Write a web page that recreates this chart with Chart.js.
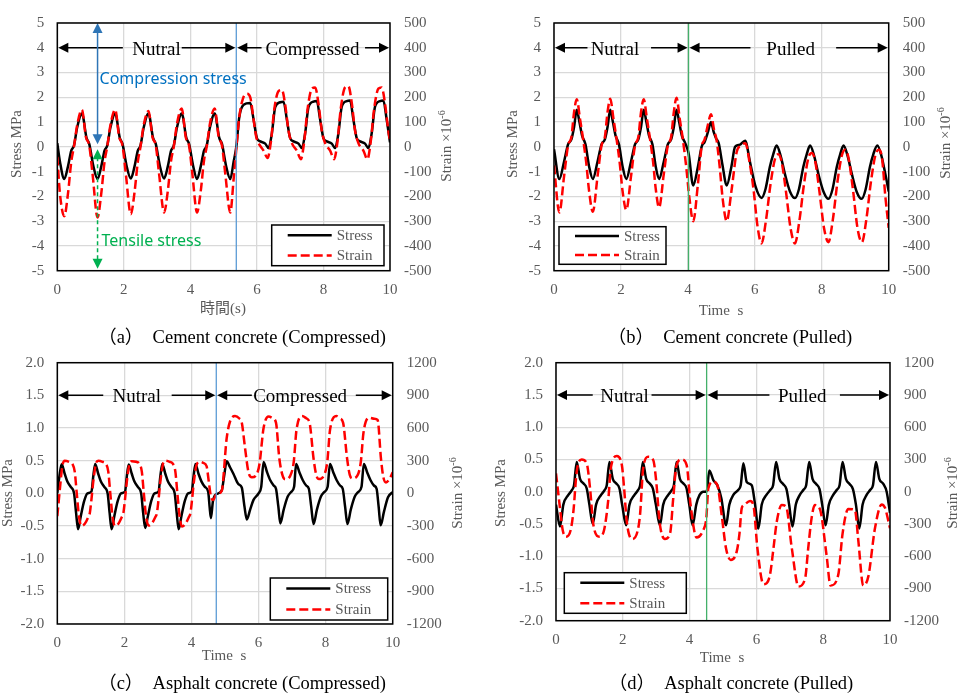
<!DOCTYPE html>
<html>
<head>
<meta charset="utf-8">
<script src="https://cdn.jsdelivr.net/npm/chart.js@4.4.1/dist/chart.umd.min.js"></script>
<style>
html, body { margin: 0; padding: 0; background: #fff; }
body { width: 962px; height: 693px; position: relative; overflow: hidden; }
canvas { position: absolute; left: 0; top: 0; }
.cap { position: absolute; width: 420px; text-align: center; line-height: 22px; white-space: pre;
  font: 18.5px "Liberation Serif", "Noto Sans CJK JP", serif; color: #000; }
</style>
</head>
<body>
<canvas id="pa" width="962" height="693"></canvas>
<canvas id="pb" width="962" height="693"></canvas>
<canvas id="pc" width="962" height="693"></canvas>
<canvas id="pd" width="962" height="693"></canvas>
<div class="cap" style="left:32px;top:322px">（a）　Cement concrete (Compressed)</div>
<div class="cap" style="left:520px;top:322px">（b）　Cement concrete (Pulled)</div>
<div class="cap" style="left:32px;top:668px">（c）　Asphalt concrete (Compressed)</div>
<div class="cap" style="left:521px;top:668px">（d）　Asphalt concrete (Pulled)</div>
<script>
// [time s, stress MPa] and [time s, strain x10^-6]
const aStress = [[0,0.15],[0.08,-0.6],[0.21,-1.3],[0.32,-0.8],[0.42,-0.15],[0.5,0.05],[0.6,0.8],[0.74,1.35],[0.88,0.35],[0.96,0.12],[1.08,-0.75],
  [1.21,-1.3],[1.32,-0.8],[1.42,-0.15],[1.5,0.05],[1.6,0.8],[1.74,1.35],[1.88,0.35],[1.96,0.12],[2.08,-0.75],
  [2.21,-1.28],[2.32,-0.8],[2.42,-0.15],[2.5,0.05],[2.6,0.8],[2.74,1.35],[2.88,0.35],[2.96,0.12],[3.08,-0.75],
  [3.21,-1.28],[3.32,-0.8],[3.42,-0.15],[3.5,0.05],[3.6,0.8],[3.74,1.35],[3.88,0.35],[3.96,0.12],[4.08,-0.75],
  [4.2,-1.3],[4.31,-0.8],[4.41,-0.15],[4.49,0.05],[4.59,0.8],[4.73,1.35],[4.87,0.35],[4.95,0.12],[5.07,-0.75],
  [5.2,-1.3],[5.3,-0.6],[5.38,0],[5.47,1.2],[5.6,1.7],[5.8,1.77],[5.9,1.1],[6.0,0.35],[6.1,0.22],[6.25,0.13],
  [6.35,-0.05],[6.45,0.55],[6.55,1.6],[6.7,1.8],[6.8,1.82],[6.9,1.1],[7.0,0.35],[7.1,0.22],[7.25,0.13],
  [7.35,-0.05],[7.45,0.55],[7.55,1.6],[7.7,1.83],[7.8,1.85],[7.9,1.1],[8.0,0.35],[8.1,0.22],[8.25,0.13],
  [8.35,-0.05],[8.45,0.55],[8.55,1.62],[8.7,1.85],[8.8,1.87],[8.9,1.1],[9.0,0.35],[9.1,0.22],[9.25,0.13],
  [9.35,-0.05],[9.45,0.55],[9.55,1.62],[9.7,1.85],[9.8,1.87],[9.9,1.1],[10,0.18]];
const aStrain = [[0,-40],[0.08,-190],[0.21,-280],[0.32,-190],[0.42,-60],[0.5,0],[0.6,90],[0.74,150],[0.86,40],[0.96,5],[1.06,-110],
  [1.21,-285],[1.32,-190],[1.42,-60],[1.5,0],[1.6,90],[1.74,150],[1.86,40],[1.96,5],[2.06,-110],
  [2.21,-272],[2.32,-185],[2.42,-60],[2.5,0],[2.6,90],[2.74,145],[2.86,40],[2.96,5],[3.06,-110],
  [3.21,-265],[3.32,-180],[3.42,-55],[3.5,0],[3.6,95],[3.74,155],[3.86,40],[3.96,5],[4.06,-110],
  [4.2,-265],[4.31,-180],[4.41,-55],[4.49,0],[4.59,95],[4.73,155],[4.85,40],[4.95,5],[5.05,-110],
  [5.2,-265],[5.3,-130],[5.38,-10],[5.47,120],[5.58,195],[5.7,214],[5.8,200],[5.9,110],[5.98,40],[6.05,15],[6.2,-15],
  [6.32,-45],[6.42,20],[6.52,150],[6.65,225],[6.75,230],[6.85,170],[6.95,65],[7.05,15],[7.2,-15],
  [7.32,-50],[7.42,20],[7.52,150],[7.65,235],[7.75,240],[7.85,175],[7.95,65],[8.05,15],[8.2,-15],
  [8.32,-50],[8.42,20],[8.52,155],[8.65,240],[8.75,245],[8.85,178],[8.95,65],[9.05,15],[9.2,-15],
  [9.32,-50],[9.42,20],[9.52,150],[9.65,235],[9.75,240],[9.85,175],[9.95,65],[10,24]];

const bStress = [[0,-0.1],[0.16,-1.3],[0.3,-0.6],[0.42,0.1],[0.52,0.3],[0.6,0.8],[0.68,1.5],[0.76,1.0],[0.84,0.45],[0.94,0.1],[1.05,-0.8],
  [1.16,-1.3],[1.3,-0.6],[1.42,0.1],[1.52,0.3],[1.6,0.8],[1.68,1.5],[1.76,1.0],[1.84,0.45],[1.94,0.1],[2.05,-0.8],
  [2.16,-1.3],[2.3,-0.6],[2.42,0.1],[2.52,0.3],[2.6,0.8],[2.68,1.5],[2.76,1.0],[2.84,0.45],[2.94,0.1],[3.04,-0.8],
  [3.14,-1.3],[3.28,-0.6],[3.4,0.1],[3.5,0.3],[3.58,0.8],[3.66,1.5],[3.74,1.0],[3.82,0.45],[3.92,0.15],[4.02,-0.25],
  [4.16,-1.56],[4.3,-0.8],[4.41,0],[4.5,0.2],[4.6,0.6],[4.69,1.0],[4.77,0.6],[4.84,0.35],[4.92,0.15],[5.03,-0.7],
  [5.16,-1.56],[5.3,-0.8],[5.41,0],[5.54,0.08],[5.71,0.25],[5.86,-0.64],[6.02,-1.6],
  [6.2,-2.06],[6.32,-1.7],[6.45,-0.8],[6.55,-0.3],[6.65,0.05],[6.77,-0.35],[6.9,-1.1],[7.05,-1.8],
  [7.2,-2.07],[7.32,-1.7],[7.45,-0.8],[7.55,-0.3],[7.65,0.05],[7.77,-0.35],[7.9,-1.1],[8.05,-1.8],
  [8.2,-2.1],[8.32,-1.72],[8.45,-0.8],[8.55,-0.3],[8.65,0.05],[8.77,-0.35],[8.9,-1.1],[9.04,-1.8],
  [9.19,-2.1],[9.31,-1.72],[9.44,-0.8],[9.54,-0.3],[9.66,0.05],[9.78,-0.35],[9.9,-1.1],[10,-1.8]];
const bStrain = [[0,-75],[0.16,-265],[0.3,-120],[0.42,5],[0.52,40],[0.6,140],[0.68,192],[0.78,110],[0.86,40],[0.96,-60],[1.05,-180],
  [1.16,-262],[1.3,-120],[1.42,5],[1.52,40],[1.6,140],[1.68,194],[1.78,110],[1.86,40],[1.96,-60],[2.05,-180],
  [2.16,-255],[2.3,-120],[2.42,5],[2.52,40],[2.6,140],[2.68,192],[2.78,110],[2.86,40],[2.96,-60],[3.04,-170],
  [3.14,-245],[3.28,-110],[3.4,5],[3.5,40],[3.58,140],[3.66,198],[3.76,110],[3.84,40],[3.95,-80],[4.04,-200],
  [4.16,-300],[4.3,-150],[4.41,0],[4.5,30],[4.6,90],[4.69,132],[4.78,70],[4.86,25],[4.95,-80],[5.04,-210],
  [5.16,-300],[5.3,-180],[5.46,-20],[5.58,5],[5.72,15],[5.84,-60],[5.96,-170],[6.08,-320],
  [6.2,-390],[6.33,-300],[6.47,-150],[6.6,-50],[6.7,-30],[6.8,-60],[6.93,-180],[7.07,-330],
  [7.2,-390],[7.33,-300],[7.47,-150],[7.6,-45],[7.7,-25],[7.8,-55],[7.93,-180],[8.07,-330],
  [8.2,-385],[8.33,-295],[8.47,-140],[8.6,-35],[8.7,-12],[8.8,-45],[8.93,-170],[9.07,-330],
  [9.2,-385],[9.33,-295],[9.47,-140],[9.6,-35],[9.7,-12],[9.8,-45],[9.9,-200],[10,-327]];

const cStress = [[0,0],[0.06,0.25],[0.13,0.45],[0.22,0.3],[0.3,0.18],[0.4,0.1],[0.5,0],[0.56,-0.3],[0.62,-0.55],[0.7,-0.35],[0.8,-0.12],[0.9,0],[1.02,0.03],[1.07,0.25],
  [1.13,0.45],[1.22,0.3],[1.3,0.18],[1.4,0.1],[1.5,0],[1.56,-0.3],[1.62,-0.55],[1.7,-0.35],[1.8,-0.12],[1.9,0],[2.02,0.03],[2.07,0.25],
  [2.13,0.44],[2.22,0.3],[2.3,0.18],[2.4,0.1],[2.5,0],[2.56,-0.3],[2.62,-0.53],[2.7,-0.35],[2.8,-0.12],[2.9,0],[3.02,0.03],[3.07,0.25],
  [3.13,0.45],[3.22,0.3],[3.3,0.18],[3.4,0.1],[3.5,0],[3.56,-0.3],[3.62,-0.55],[3.7,-0.35],[3.8,-0.12],[3.9,0],[4.01,0.03],[4.06,0.25],
  [4.12,0.45],[4.21,0.3],[4.3,0.18],[4.4,0.1],[4.5,0.02],[4.54,-0.2],[4.58,-0.38],[4.64,-0.12],[4.72,-0.02],[4.9,0.04],[4.97,0.25],
  [5.05,0.49],[5.15,0.4],[5.25,0.3],[5.4,0.14],[5.5,0.09],[5.58,-0.2],[5.65,-0.4],[5.75,-0.25],[5.85,-0.1],[6.0,0],[6.08,0.1],
  [6.15,0.48],[6.25,0.33],[6.35,0.2],[6.45,0.12],[6.52,0.07],[6.59,-0.2],[6.65,-0.46],[6.75,-0.25],[6.87,-0.05],[6.97,0.02],[7.06,0.1],
  [7.12,0.45],[7.22,0.32],[7.32,0.2],[7.42,0.12],[7.5,0.07],[7.57,-0.2],[7.64,-0.47],[7.74,-0.25],[7.86,-0.05],[7.96,0.02],[8.06,0.1],
  [8.13,0.45],[8.23,0.32],[8.33,0.2],[8.43,0.12],[8.51,0.07],[8.58,-0.2],[8.65,-0.47],[8.75,-0.25],[8.87,-0.05],[8.97,0.02],[9.07,0.1],
  [9.14,0.45],[9.24,0.32],[9.34,0.2],[9.44,0.12],[9.52,0.07],[9.58,-0.2],[9.64,-0.49],[9.74,-0.28],[9.86,-0.06],[10,0.02]];
const cStrain = [[0,-210],[0.08,50],[0.15,250],[0.22,300],[0.35,290],[0.45,270],[0.52,200],[0.58,0],[0.65,-220],[0.72,-300],[0.82,-280],[0.92,-220],[0.97,-180],[1.02,-50],
  [1.07,100],[1.15,270],[1.22,300],[1.35,290],[1.45,270],[1.52,200],[1.58,0],[1.65,-220],[1.72,-300],[1.82,-280],[1.92,-220],[1.97,-180],[2.02,-50],
  [2.07,100],[2.15,270],[2.22,295],[2.35,290],[2.45,270],[2.52,200],[2.58,0],[2.65,-220],[2.72,-295],[2.82,-275],[2.92,-220],[2.97,-180],[3.02,-50],
  [3.07,100],[3.15,270],[3.22,300],[3.35,290],[3.45,270],[3.52,200],[3.58,0],[3.65,-220],[3.72,-305],[3.82,-280],[3.92,-220],[3.97,-180],[4.02,-50],
  [4.07,100],[4.15,260],[4.25,290],[4.35,280],[4.45,250],[4.52,100],[4.58,-30],[4.65,-62],[4.74,-10],[4.9,22],
  [5.05,506],[5.15,660],[5.3,710],[5.42,690],[5.5,650],[5.6,410],[5.7,194],[5.8,147],[5.95,178],[6.03,272],
  [6.15,600],[6.3,705],[6.42,690],[6.52,650],[6.62,320],[6.72,160],[6.8,130],[6.95,165],[7.05,290],
  [7.13,580],[7.3,710],[7.42,690],[7.52,650],[7.64,320],[7.72,170],[7.8,131],[7.95,165],[8.05,290],
  [8.13,580],[8.32,710],[8.42,690],[8.52,650],[8.64,320],[8.72,170],[8.8,137],[8.95,165],[9.05,290],
  [9.13,560],[9.3,694],[9.45,685],[9.55,675],[9.65,320],[9.72,150],[9.8,100],[9.9,130],[10,194]];

const dStress = [[0,-0.2],[0.12,-0.54],[0.22,-0.2],[0.37,-0.05],[0.47,0.02],[0.54,0.1],[0.62,0.46],[0.72,0.2],[0.82,0.13],[0.92,0.05],[1.0,-0.2],
  [1.1,-0.5],[1.2,-0.2],[1.35,-0.05],[1.45,0.02],[1.52,0.1],[1.6,0.46],[1.7,0.2],[1.8,0.13],[1.9,0.05],[1.98,-0.2],
  [2.1,-0.52],[2.2,-0.2],[2.35,-0.05],[2.45,0.02],[2.52,0.1],[2.6,0.46],[2.7,0.2],[2.8,0.13],[2.9,0.05],[2.99,-0.2],
  [3.11,-0.52],[3.21,-0.2],[3.36,-0.05],[3.46,0.02],[3.53,0.1],[3.61,0.46],[3.71,0.2],[3.81,0.13],[3.91,0.05],[3.99,-0.2],
  [4.09,-0.52],[4.2,-0.2],[4.3,-0.05],[4.41,0],[4.51,0],[4.59,0.33],[4.71,0.18],[4.83,0.1],[4.95,-0.1],
  [5.09,-0.52],[5.19,-0.2],[5.31,-0.05],[5.46,0.03],[5.53,0.1],[5.61,0.44],[5.71,0.15],[5.86,0.1],[5.96,-0.2],
  [6.06,-0.57],[6.16,-0.2],[6.3,-0.05],[6.42,0.03],[6.5,0.1],[6.59,0.46],[6.69,0.2],[6.8,0.12],[6.9,0.04],[6.98,-0.2],
  [7.08,-0.54],[7.18,-0.2],[7.3,-0.05],[7.41,0.03],[7.49,0.1],[7.58,0.46],[7.68,0.2],[7.79,0.12],[7.89,0.04],[7.97,-0.2],
  [8.07,-0.52],[8.17,-0.2],[8.3,-0.05],[8.41,0.03],[8.49,0.1],[8.58,0.46],[8.68,0.2],[8.79,0.12],[8.89,0.04],[8.98,-0.2],
  [9.08,-0.57],[9.18,-0.2],[9.3,-0.05],[9.41,0.03],[9.49,0.1],[9.58,0.46],[9.68,0.2],[9.8,0.12],[9.9,0],[10,-0.33]];
const dStrain = [[0,170],[0.12,-155],[0.2,-356],[0.3,-420],[0.44,-356],[0.52,-186],[0.62,186],[0.77,300],[0.92,263],[1.02,30],[1.12,-310],
  [1.3,-418],[1.44,-356],[1.57,-60],[1.64,217],[1.82,331],[1.97,250],[2.04,30],[2.12,-280],
  [2.27,-440],[2.44,-370],[2.52,-200],[2.61,217],[2.76,325],[2.91,295],[3.0,100],[3.1,-280],
  [3.26,-440],[3.42,-380],[3.51,-60],[3.61,248],[3.76,300],[3.91,250],[4.03,-124],
  [4.21,-427],[4.41,-356],[4.5,-248],[4.56,30],[4.71,93],[4.83,62],[4.96,-217],[5.09,-526],
  [5.23,-635],[5.41,-557],[5.49,-400],[5.56,-155],[5.63,-124],[5.81,-87],[5.91,-124],[6.03,-526],
  [6.21,-860],[6.31,-850],[6.41,-767],[6.51,-530],[6.61,-279],[6.76,-124],[6.89,-140],[7.06,-526],
  [7.26,-882],[7.46,-805],[7.55,-530],[7.65,-250],[7.75,-124],[7.9,-160],[8.1,-590],
  [8.22,-873],[8.45,-774],[8.58,-390],[8.75,-161],[8.95,-170],[9.05,-450],
  [9.2,-873],[9.35,-790],[9.55,-340],[9.75,-118],[9.85,-150],[10,-340]];

const seriesNames = ["Stress", "Strain"];
const xTitles = ["時間(s)", "Time  s", "Time  s", "Time  s"];

const FONT = '"Liberation Serif", "Times New Roman", "Noto Sans CJK JP", serif';
const GRAY = "#595959";
Chart.defaults.font.family = FONT;
Chart.defaults.font.size = 15;
Chart.defaults.color = GRAY;

const panels = {
	pa: {
		plot: {l: 57.3, r: 390, t: 18, b: 270.7},
		y: [-5, 5, 1], y2: [-500, 500, 100], dec: 0,
		stress: aStress, strain: aStrain, xTitle: xTitles[0],
		divider: 5.38, divColor: "#5B9BD5", arrowY: 4,
		phases: [
			{from: 0, to: 5.38, text: "Nutral", at: 2.98, gap: [1.97, 3.74]},
			{from: 5.38, to: 10, text: "Compressed", at: 7.67, gap: [6.14, 9.25]}
		],
		markers: [
			{t: 1.21, from: 5, to: 0.1, color: "#2E75B6", dash: [], text: "Compression stress", textColor: "#0070C0", tx: 1.27, ty: 2.73},
			{t: 1.21, from: -0.1, to: -4.92, color: "#00B050", dash: [4, 3], text: "Tensile stress", textColor: "#00B050", tx: 1.33, ty: -3.8}
		],
		legend: {x: 271.7, y: 225, w: 112.3, h: 40.7},
		titles: {left: [17, 144], right: [447, 146], x: [223, 309]}
	},
	pb: {
		plot: {l: 554, r: 888.7, t: 16.7, b: 270.7},
		y: [-5, 5, 1], y2: [-500, 500, 100], dec: 0,
		stress: bStress, strain: bStrain, xTitle: xTitles[1],
		divider: 4.02, divColor: "#44B06A", arrowY: 4,
		phases: [
			{from: 0, to: 4.02, text: "Nutral", at: 1.82, gap: [1.0, 2.9]},
			{from: 4.02, to: 10, text: "Pulled", at: 7.07, gap: [5.87, 8.43]}
		],
		markers: [],
		legend: {x: 559, y: 226.7, w: 107, h: 37.6},
		titles: {left: [513, 144], right: [946, 143], x: [721, 311]}
	},
	pc: {
		plot: {l: 57.3, r: 392.7, t: 362.7, b: 624},
		y: [-2, 2, 0.5], y2: [-1200, 1200, 300], dec: 1,
		stress: cStress, strain: cStrain, xTitle: xTitles[2],
		divider: 4.74, divColor: "#5B9BD5", arrowY: 1.5,
		phases: [
			{from: 0, to: 4.74, text: "Nutral", at: 2.37, gap: [1.37, 3.41]},
			{from: 4.74, to: 10, text: "Compressed", at: 7.24, gap: [5.8, 8.9]}
		],
		markers: [],
		legend: {x: 270.3, y: 578, w: 117.4, h: 42},
		titles: {left: [8, 493], right: [458, 493], x: [224, 656]}
	},
	pd: {
		plot: {l: 556, r: 890, t: 362.7, b: 620.7},
		y: [-2, 2, 0.5], y2: [-1200, 1200, 300], dec: 1,
		stress: dStress, strain: dStrain, xTitle: xTitles[3],
		divider: 4.51, divColor: "#44B06A", arrowY: 1.5,
		phases: [
			{from: 0, to: 4.51, text: "Nutral", at: 2.05, gap: [1.1, 2.86]},
			{from: 4.51, to: 10, text: "Pulled", at: 7.37, gap: [6.39, 8.5]}
		],
		markers: [],
		legend: {x: 564.3, y: 572.7, w: 122, h: 40.6},
		titles: {left: [501, 493], right: [953, 493], x: [722, 658]}
	}
};

function arrowHead(ctx, x, y, dir, len, half) {
	ctx.beginPath();
	ctx.moveTo(x, y);
	if (dir === "left") { ctx.lineTo(x + len, y - half); ctx.lineTo(x + len, y + half); }
	if (dir === "right") { ctx.lineTo(x - len, y - half); ctx.lineTo(x - len, y + half); }
	if (dir === "up") { ctx.lineTo(x - half, y + len); ctx.lineTo(x + half, y + len); }
	if (dir === "down") { ctx.lineTo(x - half, y - len); ctx.lineTo(x + half, y - len); }
	ctx.closePath();
	ctx.fill();
}

function vertText(ctx, text, cx, cy, sup) {
	ctx.save();
	ctx.translate(cx, cy);
	ctx.rotate(-Math.PI / 2);
	ctx.font = "15px " + FONT;
	ctx.textBaseline = "middle";
	ctx.textAlign = "left";
	const w1 = ctx.measureText(text).width;
	let w2 = 0;
	if (sup) {
		ctx.font = "10px " + FONT;
		w2 = ctx.measureText(sup).width;
		ctx.font = "15px " + FONT;
	}
	ctx.fillText(text, -(w1 + w2) / 2, 0);
	if (sup) {
		ctx.font = "10px " + FONT;
		ctx.fillText(sup, -(w1 + w2) / 2 + w1, -5);
	}
	ctx.restore();
}

const overlay = {
	id: "overlay",
	afterDatasetsDraw(chart) {
		const p = panels[chart.canvas.id];
		const {ctx, chartArea: a} = chart;
		const x = chart.scales.x, y = chart.scales.y;
		ctx.save();
		// phase divider
		const dx = x.getPixelForValue(p.divider);
		ctx.strokeStyle = p.divColor;
		ctx.lineWidth = 1.3;
		ctx.beginPath();
		ctx.moveTo(dx, a.top);
		ctx.lineTo(dx, a.bottom);
		ctx.stroke();

		// phase arrows with labels
		const ay = y.getPixelForValue(p.arrowY);
		ctx.strokeStyle = "#000";
		ctx.fillStyle = "#000";
		ctx.lineWidth = 1.5;
		p.phases.forEach(ph => {
			const x1 = x.getPixelForValue(ph.from) + 1;
			const x2 = x.getPixelForValue(ph.to) - 1;
			ctx.beginPath();
			ctx.moveTo(x1 + 8, ay);
			ctx.lineTo(x.getPixelForValue(ph.gap[0]), ay);
			ctx.moveTo(x.getPixelForValue(ph.gap[1]), ay);
			ctx.lineTo(x2 - 8, ay);
			ctx.stroke();
			arrowHead(ctx, x1, ay, "left", 10, 5);
			arrowHead(ctx, x2, ay, "right", 10, 5);
			ctx.font = "19px " + FONT;
			ctx.textAlign = "center";
			ctx.textBaseline = "middle";
			ctx.fillText(ph.text, x.getPixelForValue(ph.at), ay + 2);
		});

		// stress direction markers
		p.markers.forEach(m => {
			const mx = x.getPixelForValue(m.t);
			const y1 = y.getPixelForValue(m.from), y2 = y.getPixelForValue(m.to);
			ctx.strokeStyle = m.color;
			ctx.fillStyle = m.color;
			ctx.lineWidth = 1.5;
			ctx.setLineDash(m.dash);
			ctx.beginPath();
			ctx.moveTo(mx, y1 + 8);
			ctx.lineTo(mx, y2 - 8);
			ctx.stroke();
			ctx.setLineDash([]);
			arrowHead(ctx, mx, y1, "up", 10, 5);
			arrowHead(ctx, mx, y2, "down", 10, 5);
			ctx.fillStyle = m.textColor;
			ctx.font = '16px "Noto Sans", "Open Sans", sans-serif';
			ctx.textAlign = "left";
			ctx.textBaseline = "middle";
			ctx.fillText(m.text, x.getPixelForValue(m.tx), y.getPixelForValue(m.ty));
		});
		ctx.restore();
	},
	afterDraw(chart) {
		const p = panels[chart.canvas.id];
		const {ctx, chartArea: a} = chart;
		ctx.save();
		ctx.strokeStyle = "#000";
		ctx.lineWidth = 1.5;
		ctx.strokeRect(a.left, a.top, a.right - a.left, a.bottom - a.top);

		// legend box
		const L = p.legend;
		ctx.fillStyle = "#fff";
		ctx.fillRect(L.x, L.y, L.w, L.h);
		ctx.strokeRect(L.x, L.y, L.w, L.h);
		const sets = chart.data.datasets.slice().reverse();
		sets.forEach((ds, i) => {
			const ry = L.y + L.h * (i === 0 ? 0.25 : 0.75);
			ctx.strokeStyle = ds.borderColor;
			ctx.lineWidth = 2.5;
			ctx.setLineDash(ds.borderDash || []);
			ctx.beginPath();
			ctx.moveTo(L.x + 16, ry);
			ctx.lineTo(L.x + 60, ry);
			ctx.stroke();
			ctx.setLineDash([]);
			ctx.fillStyle = GRAY;
			ctx.font = "15px " + FONT;
			ctx.textAlign = "left";
			ctx.textBaseline = "middle";
			ctx.fillText(ds.label, L.x + 65, ry + 1);
		});

		// axis titles
		ctx.fillStyle = GRAY;
		vertText(ctx, "Stress MPa", p.titles.left[0], p.titles.left[1]);
		vertText(ctx, "Strain ×10", p.titles.right[0], p.titles.right[1], "-6");
		ctx.font = "15px " + FONT;
		ctx.textAlign = "center";
		ctx.textBaseline = "middle";
		ctx.fillText(p.xTitle, p.titles.x[0], p.titles.x[1]);
		ctx.restore();
	}
};

function makeChart(id) {
	const p = panels[id];
	const leftW = 40, rightW = 50, bottomH = 30;
	const grid = {color: "#D9D9D9", lineWidth: 1.3, drawTicks: false};
	new Chart(document.getElementById(id), {
		type: "line",
		data: {
			datasets: [
				{label: seriesNames[1], data: p.strain.map(d => ({x: d[0], y: d[1]})), yAxisID: "y2",
					borderColor: "#FF0000", borderWidth: 2.5, borderDash: [9, 4]},
				{label: seriesNames[0], data: p.stress.map(d => ({x: d[0], y: d[1]})), yAxisID: "y",
					borderColor: "#000000", borderWidth: 2.5}
			]
		},
		options: {
			responsive: false,
			animation: false,
			layout: {
				padding: {
					left: p.plot.l - leftW,
					right: 962 - p.plot.r - rightW,
					top: p.plot.t,
					bottom: 693 - p.plot.b - bottomH
				}
			},
			elements: {
				point: {radius: 0},
				line: {cubicInterpolationMode: "monotone", fill: false}
			},
			plugins: {
				legend: {display: false},
				tooltip: {enabled: false}
			},
			scales: {
				x: {
					type: "linear", min: 0, max: 10,
					ticks: {stepSize: 2, padding: 10},
					grid: grid,
					border: {display: false},
					afterFit: s => { s.height = bottomH; }
				},
				y: {
					position: "left", min: p.y[0], max: p.y[1],
					ticks: {stepSize: p.y[2], padding: 13, callback: v => v.toFixed(p.dec)},
					grid: grid,
					border: {display: false},
					afterFit: s => { s.width = leftW; }
				},
				y2: {
					position: "right", min: p.y2[0], max: p.y2[1],
					ticks: {stepSize: p.y2[2], padding: 14, callback: v => String(v)},
					grid: {display: false, drawTicks: false},
					border: {display: false},
					afterFit: s => { s.width = rightW; }
				}
			}
		},
		plugins: [overlay]
	});
}

["pa", "pb", "pc", "pd"].forEach(makeChart);
</script>
</body>
</html>
